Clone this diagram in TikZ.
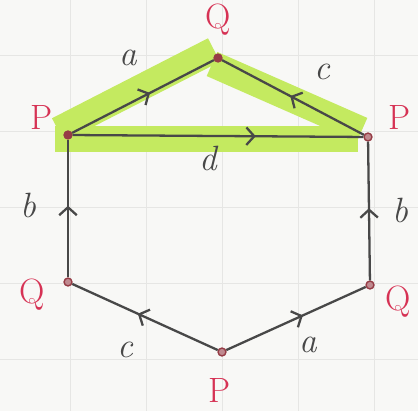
\documentclass[tikz,border=0pt]{standalone}
\usepackage{tikz}
\usetikzlibrary{arrows.meta,decorations.markings}
\definecolor{paper}{RGB}{248,248,246}
\definecolor{gridgray}{RGB}{230,230,228}
\definecolor{pen}{RGB}{72,72,72}
\definecolor{penred}{RGB}{214,50,84}
\definecolor{dotred}{RGB}{150,60,70}
\definecolor{marker}{RGB}{196,234,96}
\tikzset{vert/.style={circle,draw=dotred,fill=dotred!60!white,line width=0.8pt,inner sep=0pt,minimum size=4.5pt},edge/.style={draw=pen,line width=1.3pt},fwd/.style={postaction={decorate},decoration={markings,mark=at position #1 with {\arrow[pen,line width=1.3pt]{Straight Barb[length=4.5pt,width=10pt]}}}},vlab/.style={text=penred,font=\fontsize{20}{22}\selectfont},elab/.style={text=pen,font=\fontsize{20}{22}\selectfont\itshape},hl/.style={draw=marker,line width=15pt,line cap=butt},grid/.style={draw=gridgray,line width=0.5pt}}

\begin{document}
\begin{tikzpicture}[x=0.02cm,y=-0.02cm]
\useasboundingbox (0,0) rectangle (418,411);
\fill[paper] (0,0) rectangle (418,411);
\foreach \gx in {70,146,222,298,374} \draw[grid] (\gx,0)--(\gx,411);
\foreach \gy in {55,131,207,283,359} \draw[grid] (0,\gy)--(418,\gy);
\draw[hl] (58,130)--(214,50);
\draw[hl] (212,64)--(362,130);
\draw[hl] (55,139)--(358,139);
\node[vert,fill=dotred] (Q1) at (218,58) {};
\node[vert,fill=dotred] (P1) at (68,135) {};
\node[vert] (P2) at (368,137) {};
\node[vert] (Q2) at (68,282) {};
\node[vert] (Q3) at (370,285) {};
\node[vert] (P3) at (222,352) {};
\draw[edge,fwd=0.55] (P1)--(Q1);
\draw[edge,fwd=0.52] (P2)--(Q1);
\draw[edge,fwd=0.63] (P1)--(P2);
\draw[edge,fwd=0.52] (Q2)--(P1);
\draw[edge,fwd=0.52] (Q3)--(P2);
\draw[edge,fwd=0.55] (P3)--(Q2);
\draw[edge,fwd=0.55] (P3)--(Q3);
\node[vlab] (lQ1) at (218,20) {Q};
\node[vlab] (lP1) at (42,118) {P};
\node[vlab] (lP2) at (400,118) {P};
\node[vlab] (lQ2) at (32,295) {Q};
\node[vlab] (lQ3) at (398,302) {Q};
\node[vlab] (lP3) at (220,390) {P};
\node[elab] (la1) at (128,58) {a};
\node[elab] (lc1) at (322,72) {c};
\node[elab] (ld) at (208,158) {d};
\node[elab] (lb1) at (28,205) {b};
\node[elab] (lb2) at (400,210) {b};
\node[elab] (lc2) at (125,350) {c};
\node[elab] (la2) at (308,345) {a};
\end{tikzpicture}
\end{document}
